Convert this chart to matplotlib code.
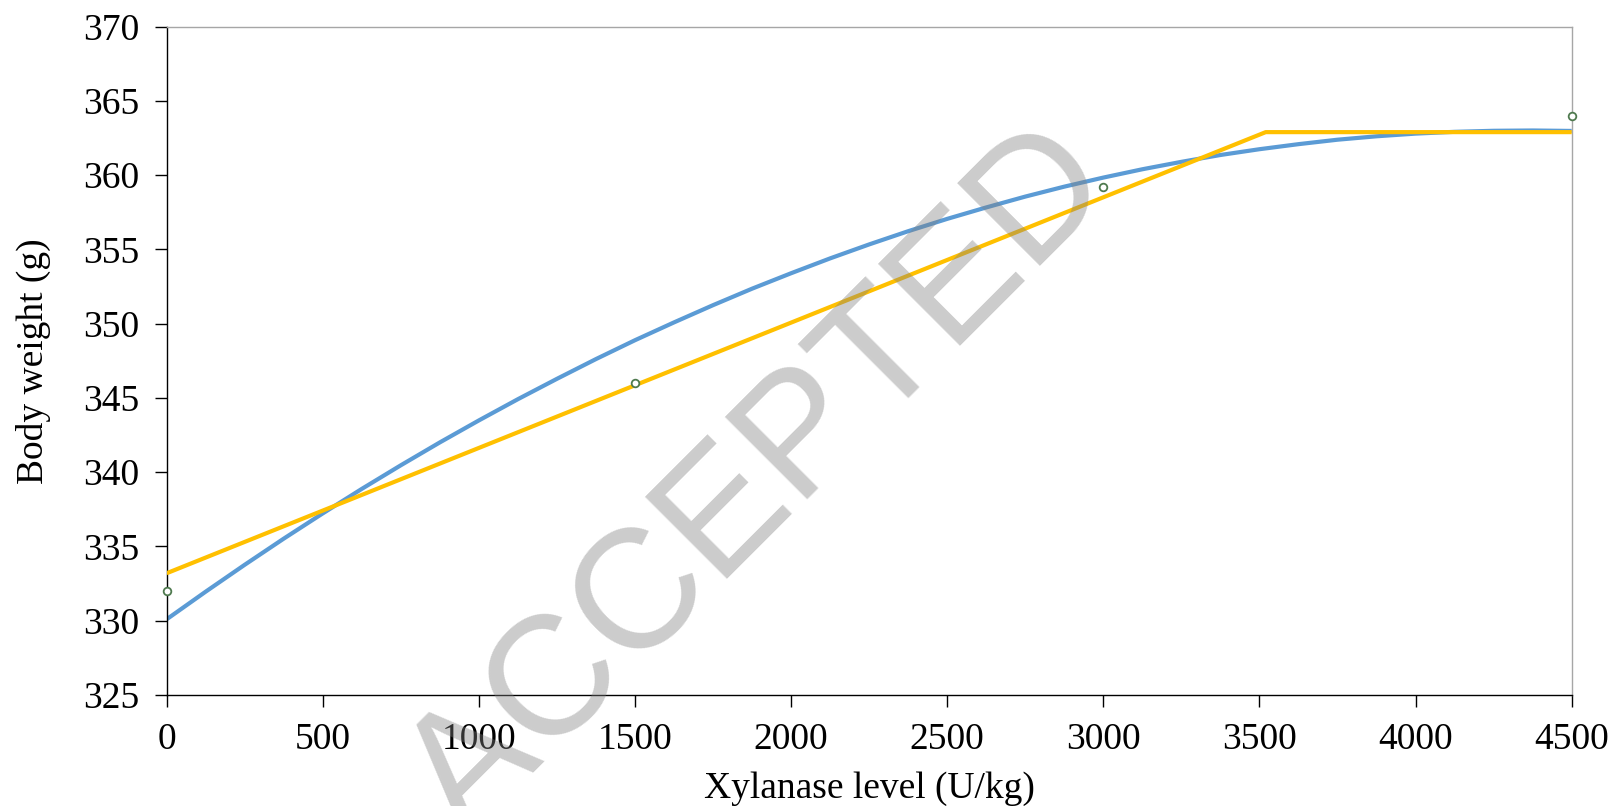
import matplotlib
matplotlib.use("Agg")
import matplotlib.pyplot as plt

# observed means
obs_x = [0, 1500, 3000, 4500]
obs_y = [332.0, 346.0, 359.2, 364.0]

# quadratic fit, every 125 U/kg
quad_x = [0, 125, 250, 375, 500, 625, 750, 875, 1000, 1125, 1250, 1375,
          1500, 1625, 1750, 1875, 2000, 2125, 2250, 2375, 2500, 2625,
          2750, 2875, 3000, 3125, 3250, 3375, 3500, 3625, 3750, 3875,
          4000, 4125, 4250, 4375, 4500]
quad_y = [330.10, 331.96, 333.77, 335.53, 337.23, 338.88, 340.47, 342.01,
          343.49, 344.92, 346.29, 347.62, 348.89, 350.09, 351.25, 352.36,
          353.40, 354.40, 355.34, 356.23, 357.06, 357.83, 358.56, 359.23,
          359.84, 360.40, 360.90, 361.36, 361.75, 362.09, 362.39, 362.62,
          362.80, 362.92, 362.99, 363.01, 362.98]

# broken-line fit
bl_x = [0, 3520, 4500]
bl_y = [333.2, 362.9, 362.9]

x_ticks = [0, 500, 1000, 1500, 2000, 2500, 3000, 3500, 4000, 4500]
y_ticks = [325, 330, 335, 340, 345, 350, 355, 360, 365, 370]

plt.rcParams["font.family"] = ["Liberation Serif", "DejaVu Serif"]

fig = plt.figure(figsize=(16.12, 8.06), dpi=100)
ax = fig.add_axes([0.1034, 0.1377, 0.8716, 0.8292])

ax.plot(quad_x, quad_y, color="#5B9BD5", lw=3.0, zorder=2, solid_capstyle="butt")
ax.plot(bl_x, bl_y, color="#FFC000", lw=3.0, zorder=3, solid_capstyle="butt")
ax.plot(obs_x, obs_y, ls="none", marker="o", ms=5.5, mfc="white",
        mec="#4F7A4F", mew=1.3, zorder=4, clip_on=False)

ax.set_xlim(0, 4500)
ax.set_ylim(325, 370)
ax.set_xticks(x_ticks)
ax.set_yticks(y_ticks)
ax.tick_params(direction="out", length=8.5, width=1, labelsize=27, pad=11)

ax.spines["left"].set_color("black")
ax.spines["bottom"].set_color("black")
ax.spines["top"].set_color("#A6A6A6")
ax.spines["right"].set_color("#A6A6A6")
for s in ax.spines.values():
    s.set_linewidth(1.0)

ax.set_xlabel("Xylanase level (U/kg)", fontsize=27, labelpad=11)
ax.set_ylabel("Body weight (g)", fontsize=27, labelpad=23)

# watermark
fig.text(0.472, 0.40, "ACCEPTED", fontsize=122, family="Liberation Sans",
         color="0.5", alpha=0.4, rotation=45, ha="center", va="center",
         zorder=10)

fig.savefig("out.png", dpi=100)
